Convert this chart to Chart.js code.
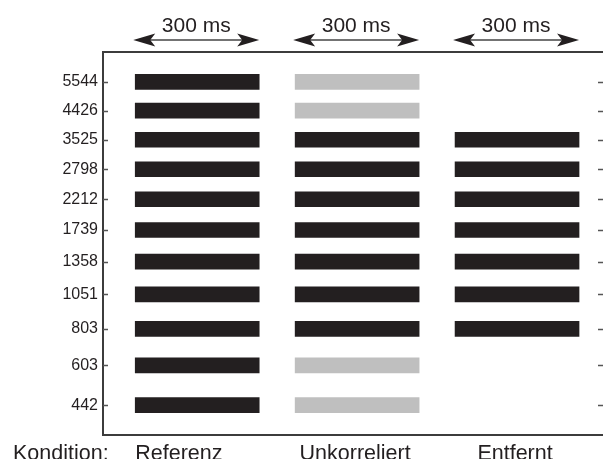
<!DOCTYPE html>
<html>
<head>
<meta charset="utf-8">
<script src="https://cdn.jsdelivr.net/npm/chart.js@4.4.0/dist/chart.umd.min.js"></script>
<style>
  html, body { margin: 0; padding: 0; background: #fff; overflow: hidden; }
  #wrap { width: 603px; height: 459px; }
</style>
</head>
<body>
<div id="wrap"><canvas id="myChart" width="603" height="459"></canvas></div>
<script>
// Frequencies (Hz) on the y axis, bottom to top
const frequencies = [442, 603, 803, 1051, 1358, 1739, 2212, 2798, 3525, 4426, 5544];

// Conditions and their 300 ms time windows (ms)
const conditions = ['Referenz', 'Unkorreliert', 'Entfernt'];
const windowStart = [78, 465, 852];
const windowLength = 300;

// State per frequency: 0 = no bar, 1 = black bar, 2 = grey bar
const referenz     = [1, 1, 1, 1, 1, 1, 1, 1, 1, 1, 1];
const unkorreliert = [2, 2, 1, 1, 1, 1, 1, 1, 1, 2, 2];
const entfernt     = [0, 0, 1, 1, 1, 1, 1, 1, 1, 0, 0];

const states = [referenz, unkorreliert, entfernt];
const colors = { 1: '#231f20', 2: '#bfbfbf' };
const ink = '#231f20';
const axisColor = '#3c3c3c';

function buildData(c) {
    let points = [];
    frequencies.forEach(function(f, i) {
        if (states[c][i]) {
            points.push({ x: [windowStart[c], windowStart[c] + windowLength], y: f, s: states[c][i] });
        }
    });
    return points;
}

const datasets = conditions.map(function(name, c) {
    return {
        label: name,
        data: buildData(c),
        backgroundColor: function(ctx) { return colors[ctx.raw ? ctx.raw.s : 1]; },
        borderWidth: 0,
        barThickness: 15,
        grouped: false
    };
});

// Frame, inward ticks, arrows and texts
const decorations = {
    id: 'decorations',
    afterDraw: function(chart) {
        const c = chart.ctx;
        const a = chart.chartArea;
        const xs = chart.scales.x;
        const ys = chart.scales.y;
        c.save();

        // frame: left, top, bottom (right side lies off the canvas)
        c.strokeStyle = axisColor;
        c.lineWidth = 2;
        c.beginPath();
        c.moveTo(a.right + 2, a.top);
        c.lineTo(a.left, a.top);
        c.lineTo(a.left, a.bottom);
        c.lineTo(a.right + 2, a.bottom);
        c.stroke();

        // ticks pointing inwards on both sides
        c.strokeStyle = '#555';
        c.lineWidth = 1.5;
        frequencies.forEach(function(f) {
            const y = Math.round(ys.getPixelForValue(f)) + 0.5;
            c.beginPath();
            c.moveTo(a.left, y);
            c.lineTo(a.left + 5, y);
            c.moveTo(a.right, y);
            c.lineTo(a.right - 5, y);
            c.stroke();
        });

        // double arrows with "300 ms" over each window
        c.fillStyle = ink;
        c.font = '21px "Liberation Sans", Arial, sans-serif';
        c.textAlign = 'center';
        c.textBaseline = 'alphabetic';
        windowStart.forEach(function(t) {
            const x0 = xs.getPixelForValue(t) - 2;
            const x1 = xs.getPixelForValue(t + windowLength);
            const y = 40;
            c.strokeStyle = '#444';
            c.lineWidth = 1.5;
            c.beginPath();
            c.moveTo(x0 + 10, y);
            c.lineTo(x1 - 10, y);
            c.stroke();
            c.beginPath();
            c.moveTo(x0, y);
            c.lineTo(x0 + 22, y - 6.5);
            c.lineTo(x0 + 17, y);
            c.lineTo(x0 + 22, y + 6.5);
            c.closePath();
            c.fill();
            c.beginPath();
            c.moveTo(x1, y);
            c.lineTo(x1 - 22, y - 6.5);
            c.lineTo(x1 - 17, y);
            c.lineTo(x1 - 22, y + 6.5);
            c.closePath();
            c.fill();
            c.fillText('300 ms', (x0 + x1) / 2, 32);
        });

        // condition labels
        c.font = '21.5px "Liberation Sans", Arial, sans-serif';
        c.textAlign = 'left';
        c.fillText('Kondition:', 13, 460);
        conditions.forEach(function(name, i) {
            const x0 = xs.getPixelForValue(windowStart[i]);
            const x1 = xs.getPixelForValue(windowStart[i] + windowLength);
            if (i === 0) {
                c.textAlign = 'left';
                c.fillText(name, x0, 460);
            } else {
                c.textAlign = 'center';
                c.fillText(name, (x0 + x1) / 2 - 2, 460);
            }
        });
        c.restore();
    }
};

const ctx = document.getElementById('myChart').getContext('2d');
const myChart = new Chart(ctx, {
    type: 'bar',
    data: { datasets: datasets },
    options: {
        indexAxis: 'y',
        responsive: false,
        animation: false,
        devicePixelRatio: 1,
        layout: { padding: { top: 52, bottom: 24, left: 0, right: 0 } },
        plugins: { legend: { display: false }, tooltip: { enabled: false } },
        scales: {
            x: {
                type: 'linear',
                min: 0,
                max: 1210,
                display: false
            },
            y: {
                type: 'logarithmic',
                position: 'left',
                min: 350,
                max: 7000,
                offset: false,
                grid: { display: false, drawTicks: false },
                border: { display: false },
                afterBuildTicks: function(axis) {
                    axis.ticks = frequencies.map(function(v) { return { value: v }; });
                },
                afterFit: function(axis) { axis.width = 103; },
                ticks: {
                    autoSkip: false,
                    padding: 5,
                    color: ink,
                    font: { family: '"Liberation Sans", Arial, sans-serif', size: 16 },
                    callback: function(value) { return String(value); }
                }
            }
        }
    },
    plugins: [decorations]
});
</script>
</body>
</html>
